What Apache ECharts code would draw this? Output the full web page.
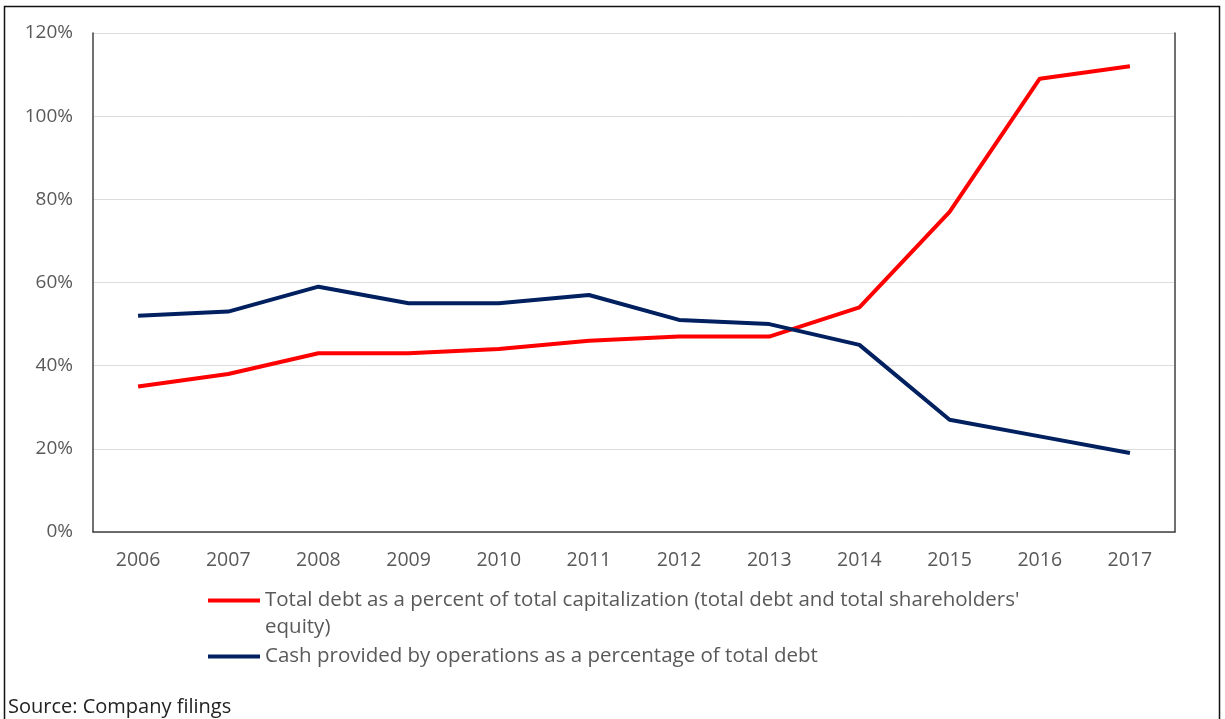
<!DOCTYPE html>
<html>
<head>
<meta charset="utf-8">
<script src="https://cdn.jsdelivr.net/npm/echarts@6/dist/echarts.min.js"></script>
<style>
  html, body { margin: 0; padding: 0; background: #fff; }
  #chart { width: 1225px; height: 719px; }
</style>
</head>
<body>
<div id="chart"></div>
<script>
var years = ['2006', '2007', '2008', '2009', '2010', '2011', '2012', '2013', '2014', '2015', '2016', '2017'];
var debtToCap = [35, 38, 43, 43, 44, 46, 47, 47, 54, 77, 109, 112];
var cashToDebt = [52, 53, 59, 55, 55, 57, 51, 50, 45, 27, 23, 19];
var yTicks = [0, 20, 40, 60, 80, 100, 120];

var nameDebt = "Total debt as a percent of total capitalization (total debt and total shareholders' equity)";
var nameCash = 'Cash provided by operations as a percentage of total debt';

var dom = document.getElementById('chart');
var myChart = echarts.init(dom);

var font = 'Open Sans';

var option = {
    animation: false,
    backgroundColor: '#fff',
    grid: { left: 93, top: 33, right: 50, bottom: 187 },
    xAxis: [{
        type: 'category',
        data: years,
        boundaryGap: true,
        axisLine: { show: true, lineStyle: { color: '#d9d9d9', width: 1 } },
        axisTick: { show: false },
        axisLabel: { color: '#595959', fontFamily: font, fontSize: 19.5, margin: 18 }
    }, {
        type: 'category',
        position: 'top',
        data: years,
        axisLine: { show: true, lineStyle: { color: '#404040', width: 1.5 } },
        axisTick: { show: false },
        axisLabel: { show: false }
    }],
    yAxis: [{
        type: 'value',
        min: yTicks[0],
        max: yTicks[yTicks.length - 1],
        interval: 20,
        axisLine: { show: true, lineStyle: { color: '#404040', width: 1.5 } },
        axisTick: { show: false },
        splitLine: { show: true, lineStyle: { color: '#dcdcdc', width: 1 } },
        axisLabel: { color: '#595959', fontFamily: font, fontSize: 19, margin: 20,
            formatter: function (v) { return v + '%'; } }
    }, {
        type: 'value',
        position: 'right',
        min: 0,
        max: 120,
        interval: 20,
        axisLine: { show: true, lineStyle: { color: '#404040', width: 1.5 } },
        axisTick: { show: false },
        splitLine: { show: false },
        axisLabel: { show: false }
    }],
    legend: [{
        data: [nameDebt],
        orient: 'vertical',
        left: 208,
        top: 560,
        padding: 0,
        icon: 'rect',
        itemWidth: 52,
        itemHeight: 4,
        // leading blank line keeps the first text line level with the icon
        formatter: function (name) { return '\n' + name; },
        textStyle: { color: '#595959', fontFamily: font, fontSize: 20.5, width: 770,
            overflow: 'break', lineHeight: 27 }
    }, {
        data: [nameCash],
        orient: 'vertical',
        left: 208,
        top: 643,
        padding: 0,
        icon: 'rect',
        itemWidth: 52,
        itemHeight: 4,
        textStyle: { color: '#595959', fontFamily: font, fontSize: 20.5, lineHeight: 27 }
    }],
    series: [{
        name: nameDebt,
        type: 'line',
        data: debtToCap,
        symbol: 'none',
        lineStyle: { color: '#ff0000', width: 4 },
        itemStyle: { color: '#ff0000' },
        z: 3
    }, {
        name: nameCash,
        type: 'line',
        data: cashToDebt,
        symbol: 'none',
        lineStyle: { color: '#002060', width: 4 },
        itemStyle: { color: '#002060' },
        z: 4
    }],
    graphic: [{
        type: 'rect',
        shape: { x: 4.5, y: 6.5, width: 1215, height: 730 },
        style: { fill: null, stroke: '#111', lineWidth: 1.5 },
        silent: true
    }, {
        type: 'text',
        left: 8,
        top: 697,
        style: { text: 'Source: Company filings', fill: '#222', font: '20px "Open Sans"' }
    }]
};

if (option && typeof option === 'object') {
    myChart.setOption(option, true);
}
window.onresize = function () {
    myChart.resize();
};
</script>
</body>
</html>
